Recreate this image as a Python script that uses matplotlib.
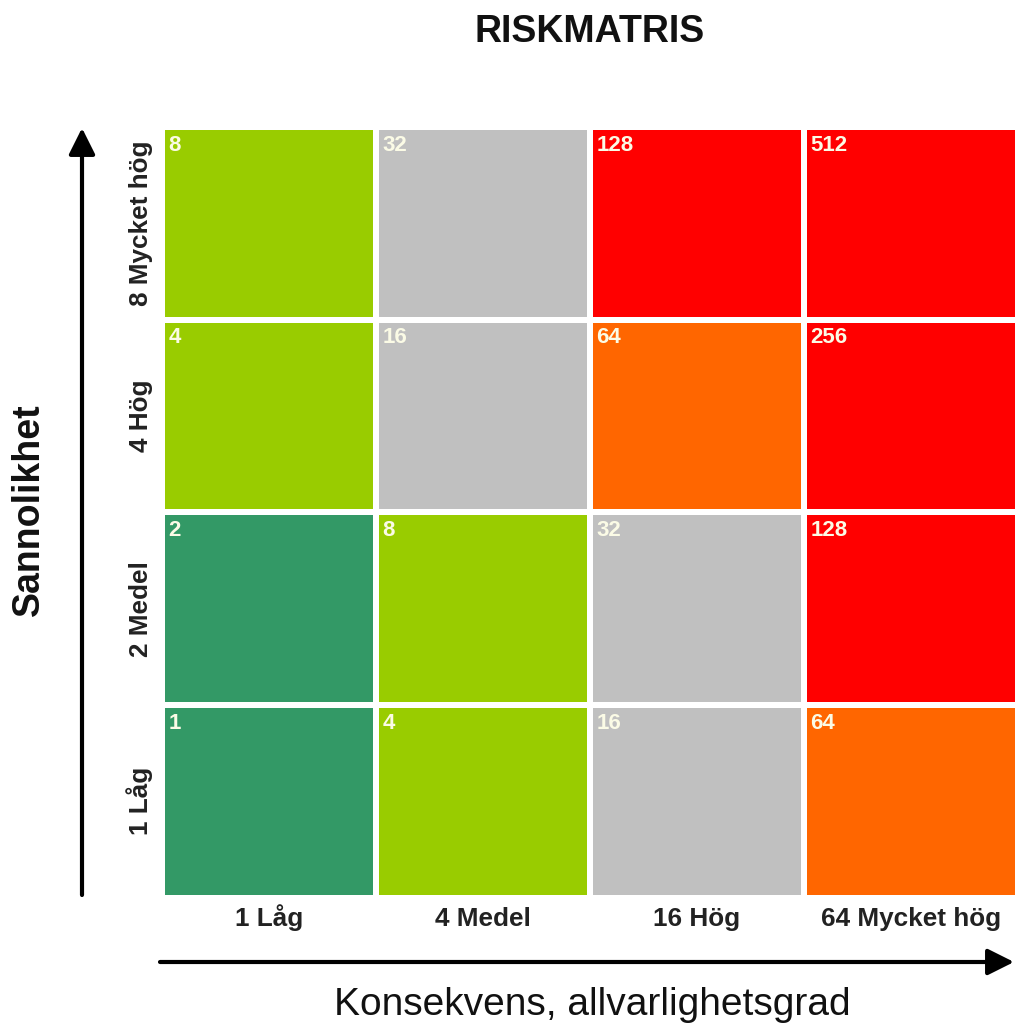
import matplotlib
matplotlib.use('Agg')
import matplotlib.pyplot as plt

plt.rcParams['font.family'] = ['Liberation Sans', 'DejaVu Sans']

# consequence (columns) and probability (rows, bottom to top)
col_labels = ['1 Låg', '4 Medel', '16 Hög', '64 Mycket hög']
row_labels = ['1 Låg', '2 Medel', '4 Hög', '8 Mycket hög']

# risk values, one list per row from bottom to top
risk = [
    [1, 4, 16, 64],
    [2, 8, 32, 128],
    [4, 16, 64, 256],
    [8, 32, 128, 512],
]

# risk level per cell, same layout as above
levels = [
    ['mycket_lag', 'lag', 'medel', 'hog'],
    ['mycket_lag', 'lag', 'medel', 'mycket_hog'],
    ['lag', 'medel', 'hog', 'mycket_hog'],
    ['lag', 'medel', 'mycket_hog', 'mycket_hog'],
]

level_colors = {
    'mycket_lag': '#339966',
    'lag': '#99cc00',
    'medel': '#c0c0c0',
    'hog': '#ff6600',
    'mycket_hog': '#ff0000',
}

W, H = 1017, 1029
fig = plt.figure(figsize=(W / 100, H / 100), dpi=100)
ax = fig.add_axes([165 / W, (H - 900.5) / H, 856 / W, 770.5 / H])

cw = 0.972  # cell width, rest is white gap
ch = 0.97
for j, row in enumerate(risk):
    for i, val in enumerate(row):
        ax.bar(i, ch, width=cw, bottom=j + (1 - ch), align='edge',
               color=level_colors[levels[j][i]], linewidth=0)
        ax.text(i + 0.015, j + 1 - 0.025, str(val), ha='left', va='top',
                fontsize=16, fontweight='bold', color='#fbfbe6')

ax.set_xlim(0, 4)
ax.set_ylim(0, 4)
ax.set_xticks([i + cw / 2 for i in range(4)])
ax.set_xticklabels(col_labels, fontsize=18.8, fontweight='bold', color='#222222',
                   va='baseline')
ax.set_yticks([j + (1 - ch) + ch / 2 for j in range(4)])
ax.set_yticklabels(row_labels, fontsize=18.8, fontweight='bold', color='#222222',
                   rotation=90, rotation_mode='anchor', ha='center', va='baseline')
ax.tick_params(length=0)
ax.tick_params(axis='x', pad=18.4)
ax.tick_params(axis='y', pad=12)
for s in ax.spines.values():
    s.set_visible(False)

# axis arrows
arrow = dict(arrowstyle='-|>', color='black', lw=3, mutation_scale=40,
             shrinkA=0, shrinkB=0)
fig.add_artist(matplotlib.patches.FancyArrowPatch(
    (82 / W, 1 - 895 / H), (82 / W, 1 - 128 / H),
    transform=fig.transFigure, **arrow))
fig.add_artist(matplotlib.patches.FancyArrowPatch(
    (160 / W, 1 - 962 / H), (1014 / W, 1 - 962 / H),
    transform=fig.transFigure, **arrow))

fig.text(590 / W, 1 - 42 / H, 'RISKMATRIS', ha='center', va='baseline',
         fontsize=27, fontweight='bold', color='#111111')
fig.text(592 / W, 1 - 1015 / H, 'Konsekvens, allvarlighetsgrad', ha='center',
         va='baseline', fontsize=28, color='#111111')
fig.text(29 / W, 1 - 510 / H, 'Sannolikhet', ha='center', va='center',
         rotation=90, fontsize=27, fontweight='bold', color='#111111')

fig.savefig('out.png', dpi=100)
